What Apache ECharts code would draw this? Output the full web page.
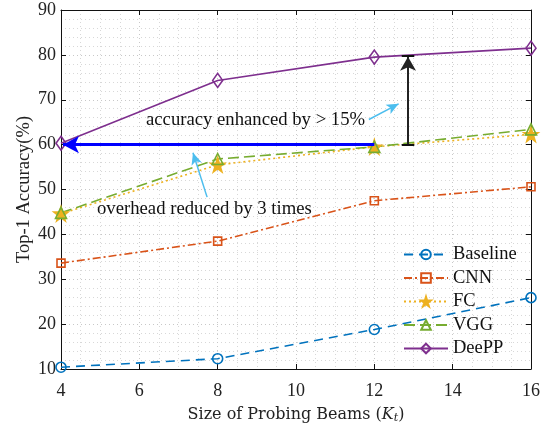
<!DOCTYPE html>
<html>
<head>
<meta charset="utf-8">
<script src="https://cdn.jsdelivr.net/npm/echarts@6/dist/echarts.min.js"></script>
<style>
  html, body { margin: 0; padding: 0; background: #fff; }
  #chart { width: 552px; height: 423px; }
</style>
</head>
<body>
<div id="chart"></div>
<script>
// probing beam sizes
const beams = [4, 8, 12, 16]
// top-1 accuracy (%)
const baseline = [10.4, 12.3, 18.8, 25.9]
const cnn = [33.6, 38.5, 47.5, 50.6]
const fc = [44.6, 55.5, 59.5, 62.3]
const vgg = [44.8, 56.8, 59.5, 63.4]
const deepp = [60.3, 74.3, 79.5, 81.5]
const names = ['Baseline', 'CNN', 'FC', 'VGG', 'DeePP']

const FONT = 'Liberation Serif'
const star = 'path://M50,0 L61,35 L98,35 L68,57 L79,91 L50,70 L21,91 L32,57 L2,35 L39,35 Z'

function pairs(ys) {
  return beams.map((x, i) => [x, ys[i]])
}

function lineSeries(name, ys, color, dash, symbol, size, filled) {
  return {
    name: name,
    type: 'line',
    data: pairs(ys),
    symbol: symbol,
    symbolSize: size,
    color: color,
    lineStyle: { color: color, width: 1.6, type: dash },
    itemStyle: { color: filled ? color : 'rgba(255,255,255,0)', borderColor: color, borderWidth: 1.6 },
    emphasis: { disabled: true },
    z: 3
  }
}

const chart = echarts.init(document.getElementById('chart'))
chart.setOption({
  animation: false,
  backgroundColor: '#fff',
  textStyle: { fontFamily: FONT },
  grid: { left: 61, right: 21, top: 10, bottom: 54, outerBoundsMode: 'none', containLabel: false },
  legend: {
    data: names,
    orient: 'vertical',
    left: 403,
    top: 245,
    padding: 0,
    itemWidth: 44,
    itemHeight: 12,
    itemGap: 4.5,
    textStyle: { fontFamily: FONT, fontSize: 18.5, color: '#111' }
  },
  xAxis: [
    {
      type: 'value', min: 4, max: 16, interval: 2,
      name: 'Size of Probing Beams ({i|K}{s|t})',
      nameLocation: 'middle', nameGap: 36, nameMoveOverlap: false,
      nameTextStyle: {
        fontFamily: 'DejaVu Serif', fontSize: 16, color: '#222',
        rich: {
          i: { fontFamily: 'DejaVu Serif', fontStyle: 'italic', fontSize: 16, color: '#222' },
          s: { fontFamily: 'DejaVu Serif', fontStyle: 'italic', fontSize: 11, color: '#222', verticalAlign: 'bottom', padding: [8, 0, 0, 0] }
        }
      },
      axisLine: { onZero: false, lineStyle: { color: '#111', width: 1 } },
      axisTick: { inside: true, length: 5, lineStyle: { color: '#111' } },
      axisLabel: { fontFamily: FONT, fontSize: 18, color: '#222', margin: 13 },
      splitLine: { show: true, lineStyle: { type: [1, 3], color: '#c8c8c8' } },
      minorTick: { show: false, splitNumber: 4 },
      minorSplitLine: { show: true, lineStyle: { type: [1, 3], color: '#d8d8d8' } }
    },
    {
      type: 'value', min: 4, max: 16, interval: 2, position: 'top',
      axisLine: { onZero: false, lineStyle: { color: '#111', width: 1 } },
      axisTick: { inside: true, length: 5, lineStyle: { color: '#111' } },
      axisLabel: { show: false },
      splitLine: { show: false }
    }
  ],
  yAxis: [
    {
      type: 'value', min: 10, max: 90, interval: 10,
      name: 'Top-1 Accuracy(%)',
      nameLocation: 'middle', nameGap: 27, nameMoveOverlap: false,
      nameTextStyle: { fontFamily: FONT, fontSize: 18.5, color: '#222' },
      axisLine: { onZero: false, lineStyle: { color: '#111', width: 1 } },
      axisTick: { inside: true, length: 5, lineStyle: { color: '#111' } },
      axisLabel: { fontFamily: FONT, fontSize: 18, color: '#222', margin: 5 },
      splitLine: { show: true, lineStyle: { type: [1, 3], color: '#c8c8c8' } },
      minorTick: { show: false, splitNumber: 5 },
      minorSplitLine: { show: true, lineStyle: { type: [1, 3], color: '#d8d8d8' } }
    },
    {
      type: 'value', min: 10, max: 90, interval: 10, position: 'right',
      axisLine: { onZero: false, lineStyle: { color: '#111', width: 1 } },
      axisTick: { inside: true, length: 5, lineStyle: { color: '#111' } },
      axisLabel: { show: false },
      splitLine: { show: false }
    }
  ],
  series: [
    lineSeries('Baseline', baseline, '#0072BD', [9, 6], 'circle', 10, false),
    lineSeries('CNN', cnn, '#D95319', [8, 3, 2, 3], 'rect', 8, false),
    lineSeries('FC', fc, '#EDB120', [2, 3], star, 14, true),
    lineSeries('VGG', vgg, '#77AC30', [11, 5], 'triangle', 11, false),
    lineSeries('DeePP', deepp, '#7E2F8E', 'solid', 'diamond', [10, 14], false),
    {
      // annotation arrows
      name: 'notes',
      type: 'line',
      data: [],
      silent: true,
      z: 4,
      markLine: {
        silent: true,
        animation: false,
        label: { show: false },
        emphasis: { disabled: true },
        data: [
          [
            { coord: [12, 60], symbol: 'none', lineStyle: { color: '#0000FF', width: 3, type: 'solid' } },
            { coord: [4.05, 60], symbol: 'arrow', symbolSize: [13, 16] }
          ],
          [
            { coord: [12.86, 60], symbol: 'none', lineStyle: { color: '#222', width: 2, type: 'solid' } },
            { coord: [12.86, 79.6], symbol: 'arrow', symbolSize: [12, 14] }
          ],
          [
            { coord: [12.7, 60], symbol: 'none', lineStyle: { color: '#111', width: 2, type: 'solid' } },
            { coord: [13.02, 60], symbol: 'none' }
          ],
          [
            { coord: [12.7, 79.8], symbol: 'none', lineStyle: { color: '#111', width: 2, type: 'solid' } },
            { coord: [13.02, 79.8], symbol: 'none' }
          ],
          [
            { coord: [11.86, 65.6], symbol: 'none', lineStyle: { color: '#4DBEEE', width: 1.5, type: 'solid' } },
            { coord: [12.62, 69.1], symbol: 'arrow', symbolSize: [8, 12] }
          ],
          [
            { coord: [7.73, 48.3], symbol: 'none', lineStyle: { color: '#4DBEEE', width: 1.5, type: 'solid' } },
            { coord: [7.37, 58.2], symbol: 'arrow', symbolSize: [8, 12] }
          ]
        ]
      }
    }
  ],
  graphic: [
    {
      type: 'text', left: 146, top: 111, z: 10,
      style: { text: 'accuracy enhanced by > 15%', fontFamily: FONT, fontSize: 18.7, fill: '#111' }
    },
    {
      type: 'text', left: 97, top: 200, z: 10,
      style: { text: 'overhead reduced by 3 times', fontFamily: FONT, fontSize: 18.7, fill: '#111' }
    }
  ]
})
</script>
</body>
</html>
